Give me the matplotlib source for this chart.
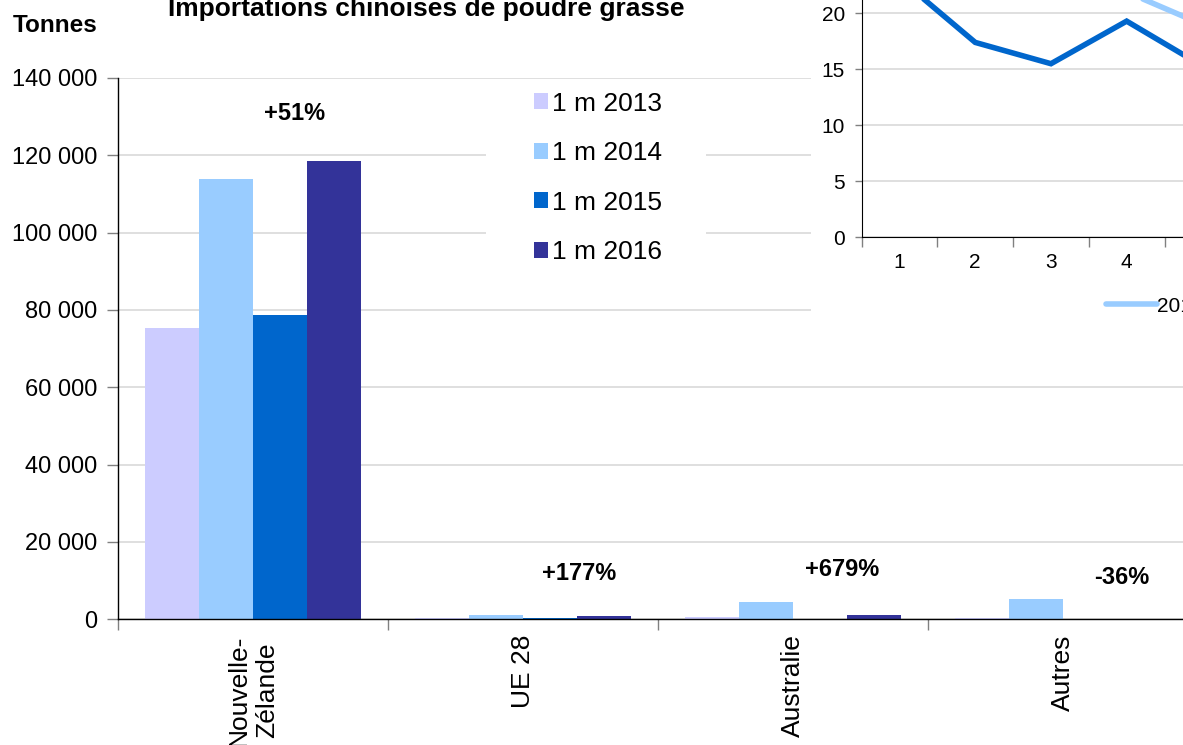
import matplotlib
matplotlib.use("Agg")
import matplotlib.pyplot as plt
from matplotlib.patches import Rectangle
from matplotlib.ticker import FuncFormatter, FixedLocator
import numpy as np

plt.rcParams['font.family'] = ['Liberation Sans', 'DejaVu Sans']

# ---------------- data ----------------
categories = ["Nouvelle-\nZélande", "UE 28", "Australie", "Autres"]
series_labels = ["1 m 2013", "1 m 2014", "1 m 2015", "1 m 2016"]
v2013 = [75400, 300, 600, 300]
v2014 = [113900, 1000, 4600, 5200]
v2015 = [78600, 300, 140, 150]
v2016 = [118600, 830, 1090, 96]
pct_labels = ["+51%", "+177%", "+679%", "-36%"]

# inset line chart (partially visible)
months = [1, 2, 3, 4, 5]
month_labels = ["1", "2", "3", "4", "5"]
line_a = [26.0, 24.0, 23.0, 21.9, 19.0]   # light blue
line_b = [23.1, 17.4, 15.5, 19.3, 15.3]   # dark blue
inset_legend = ["2014", "2015"]

colors = ["#CCCCFF", "#99CCFF", "#0066CC", "#333399"]

W, H = 1183, 745
fig = plt.figure(figsize=(W / 100, H / 100), dpi=100)

def fx(px):
    return px / W

def fy(py):
    return (H - py) / H

# ---------------- main bar chart ----------------
ax = fig.add_axes([fx(118), fy(619.3), fx(1198) - fx(118), fy(78) - fy(619.3)])
x = np.arange(len(categories))
bw = 0.2
for i, vals in enumerate([v2013, v2014, v2015, v2016]):
    ax.bar(x + (i - 1.5) * bw, vals, width=bw, color=colors[i], label=series_labels[i],
           zorder=2, linewidth=0)

ax.set_xlim(-0.5, len(categories) - 0.5)
ax.set_ylim(0, 140000)
ax.yaxis.set_major_locator(FixedLocator(np.arange(0, 140001, 20000)))
ax.yaxis.set_major_formatter(FuncFormatter(lambda v, p: f"{int(v):,}".replace(",", " ")))
ax.grid(axis='y', color='#D9D9D9', linewidth=1.2, zorder=0)
ax.set_axisbelow(True)

ax.set_xticks(np.arange(-0.5, len(categories)), labels=[""] * (len(categories) + 1))
ax.set_xticks(x, labels=categories, minor=True)
ax.tick_params(axis='x', which='major', length=8, color='#808080', width=1, direction='out')
ax.tick_params(axis='x', which='minor', length=0, pad=11, labelsize=19, labelrotation=90)
for lab in ax.get_xticklabels(minor=True):
    lab.set_multialignment('center')
ax.tick_params(axis='y', length=8, color='#808080', width=1, pad=7, labelsize=17)

for s in ['top', 'right']:
    ax.spines[s].set_visible(False)
ax.spines['left'].set_color('black')
ax.spines['bottom'].set_color('black')
ax.spines['left'].set_linewidth(1.0)
ax.spines['bottom'].set_linewidth(1.0)

# percentage annotations
pct_pos = [(0.154, 130700), (1.209, 11900), (2.183, 13000), (3.216, 10700)]
for lab, (px_, py_) in zip(pct_labels, pct_pos):
    ax.text(px_, py_, lab, ha='center', va='center', fontsize=17, fontweight='bold', zorder=5)

# legend with white box
ax.add_patch(Rectangle((fx(486), fy(274)), fx(706) - fx(486), fy(82) - fy(274),
                       transform=fig.transFigure, facecolor='white', edgecolor='none',
                       zorder=4, clip_on=False))
leg = ax.legend(loc='upper left', bbox_to_anchor=(fx(523), fy(81)), bbox_transform=fig.transFigure,
                frameon=False, fontsize=19, handlelength=0.55, handleheight=0.55,
                handletextpad=0.15, labelspacing=0.97, borderaxespad=0, borderpad=0.4)
leg.set_zorder(6)

# white box for the pasted inset chart
ax.add_patch(Rectangle((fx(811), fy(340)), 1 - fx(811) + 0.01, fy(-5) - fy(340),
                       transform=fig.transFigure, facecolor='white', edgecolor='none',
                       zorder=4, clip_on=False))

# titles
fig.text(fx(426), fy(16), "Importations chinoises de poudre grasse", ha='center', va='baseline',
         fontsize=19, fontweight='bold')
fig.text(fx(13), fy(32), "Tonnes", ha='left', va='baseline', fontsize=17.5, fontweight='bold')

# ---------------- inset line chart ----------------
px_per_cat = 75.7
px_per_unit = 11.2
ncat = len(months)
ymax = 25
axi = fig.add_axes([fx(861.7), fy(237.3), ncat * px_per_cat / W, ymax * px_per_unit / H], zorder=3)
axi.set_facecolor('none')
axi.plot(months, line_a, color='#99CCFF', linewidth=4.0, solid_capstyle='round',
         solid_joinstyle='miter', label=inset_legend[0], zorder=3, clip_on=False)
axi.plot(months, line_b, color='#0066CC', linewidth=4.0, solid_capstyle='round',
         solid_joinstyle='miter', label=inset_legend[1], zorder=3, clip_on=False)
axi.set_xlim(0.5, ncat + 0.5)
axi.set_ylim(0, ymax)
axi.set_yticks(np.arange(0, 21, 5))
axi.grid(axis='y', color='#D9D9D9', linewidth=1.2, zorder=0)
axi.set_axisbelow(True)
axi.set_xticks(np.arange(0.5, ncat + 1), labels=[""] * (ncat + 1))
axi.set_xticks(months, labels=month_labels, minor=True)
axi.tick_params(axis='x', which='major', length=7, color='#808080', width=1)
axi.tick_params(axis='x', which='minor', length=0, pad=11, labelsize=15)
axi.tick_params(axis='y', length=5, color='#808080', width=1, pad=7, labelsize=15)
for s in ['top', 'right']:
    axi.spines[s].set_visible(False)
axi.spines['left'].set_color('black')
axi.spines['bottom'].set_color('black')

axi.legend(loc='center left', bbox_to_anchor=(fx(1098), fy(306)), bbox_transform=fig.transFigure,
           frameon=False, fontsize=15, handlelength=2.45, handletextpad=0.0, ncol=2,
           borderaxespad=0, borderpad=0.4)

fig.savefig("out.png", dpi=100)
